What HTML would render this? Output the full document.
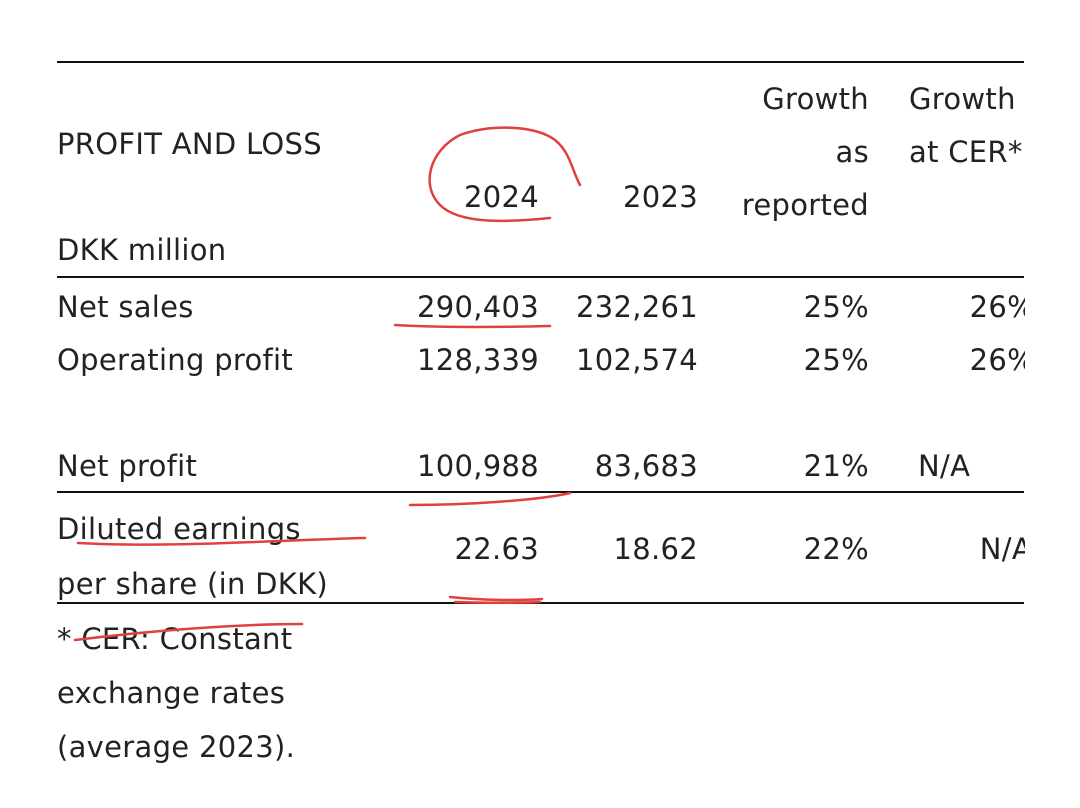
<!DOCTYPE html>
<html><head><meta charset="utf-8"><style>
html,body{margin:0;padding:0;background:#fff;}
body{width:1080px;height:808px;position:relative;overflow:hidden;font-family:"DejaVu Sans","Liberation Sans",sans-serif;color:#222;font-size:29px;letter-spacing:0.3px;}
.t{position:absolute;white-space:nowrap;line-height:36px;}
.r{text-align:right;}
.rule{position:absolute;left:57px;width:967px;height:2px;background:#111;}
.clip{position:absolute;left:1025px;top:0;width:60px;height:808px;background:#fff;}
</style></head><body>
<div class="rule" style="top:61px"></div>
<div class="rule" style="top:276px"></div>
<div class="rule" style="top:491px"></div>
<div class="rule" style="top:602px"></div>

<div class="t" style="left:57px;top:126px">PROFIT AND LOSS</div>
<div class="t" style="left:57px;top:232px">DKK million</div>
<div class="t r" style="right:541px;top:179px">2024</div>
<div class="t r" style="right:382px;top:179px">2023</div>
<div class="t r" style="right:211px;top:73px;line-height:53px">Growth<br>as<br>reported</div>
<div class="t" style="left:909px;top:73px;line-height:53px">Growth<br>at CER*</div>

<div class="t" style="left:57px;top:289px">Net sales</div>
<div class="t r" style="right:541px;top:289px">290,403</div>
<div class="t r" style="right:382px;top:289px">232,261</div>
<div class="t r" style="right:211px;top:289px">25%</div>
<div class="t r" style="right:45px;top:289px">26%</div>

<div class="t" style="left:57px;top:342px">Operating profit</div>
<div class="t r" style="right:541px;top:342px">128,339</div>
<div class="t r" style="right:382px;top:342px">102,574</div>
<div class="t r" style="right:211px;top:342px">25%</div>
<div class="t r" style="right:45px;top:342px">26%</div>

<div class="t" style="left:57px;top:448px">Net profit</div>
<div class="t r" style="right:541px;top:448px">100,988</div>
<div class="t r" style="right:382px;top:448px">83,683</div>
<div class="t r" style="right:211px;top:448px">21%</div>
<div class="t" style="left:918px;top:448px">N/A</div>

<div class="t" style="left:57px;top:502px;line-height:55px">Diluted earnings<br>per share (in DKK)</div>
<div class="t r" style="right:541px;top:531px">22.63</div>
<div class="t r" style="right:382px;top:531px">18.62</div>
<div class="t r" style="right:211px;top:531px">22%</div>
<div class="t r" style="right:48px;top:531px">N/A</div>

<div class="clip"></div>

<div class="t" style="left:57px;top:612px;line-height:54px">* CER: Constant<br>exchange rates<br>(average 2023).</div>

<svg width="1080" height="808" style="position:absolute;left:0;top:0" fill="none" stroke="#e0403f" stroke-width="2.5" stroke-linecap="round">
<path d="M550,218 C510,222 460,225 440,205 C420,185 430,150 460,135 C490,124 535,125 555,140 C570,152 572,170 580,185"/>
<path d="M395,325 C450,328 510,327 550,326"/>
<path d="M410,505 C470,505 540,500 570,493"/>
<path d="M78,543 C170,548 280,540 365,538"/>
<path d="M450,597 C480,600 515,601 542,599 M455,602 C490,603 520,603 540,602"/>
<path d="M75,640 C140,632 230,624 302,624"/>
</svg>
</body></html>
